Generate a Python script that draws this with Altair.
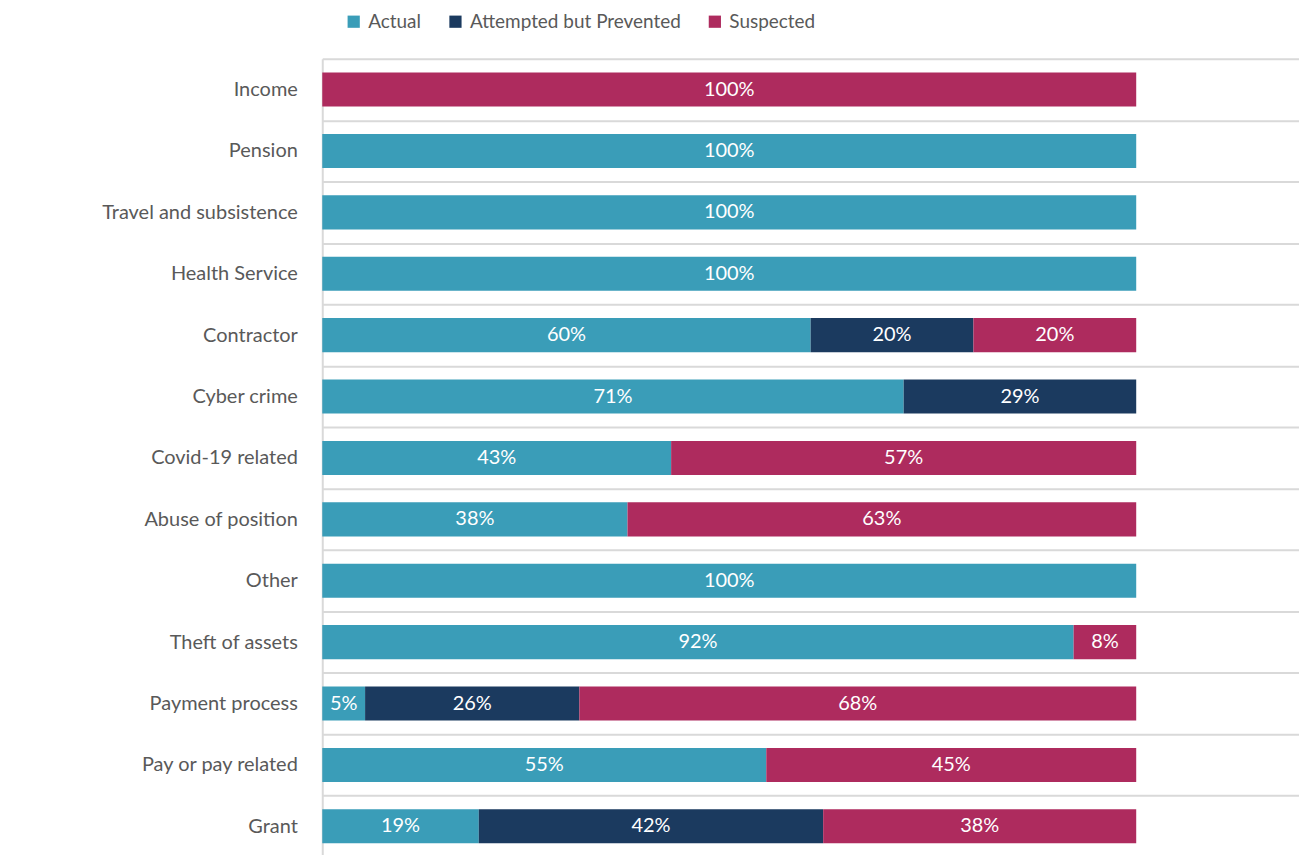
import altair as alt
import pandas as pd

categories = ["Income", "Pension", "Travel and subsistence", "Health Service", "Contractor",
              "Cyber crime", "Covid-19 related", "Abuse of position", "Other", "Theft of assets",
              "Payment process", "Pay or pay related", "Grant"]
actual = [0, 100, 100, 100, 60, 71.43, 42.86, 37.5, 100, 92.31, 5.26, 54.55, 19.23]
attempted = [0, 0, 0, 0, 20, 28.57, 0, 0, 0, 0, 26.32, 0, 42.31]
suspected = [100, 0, 0, 0, 20, 0, 57.14, 62.5, 0, 7.69, 68.42, 45.45, 38.46]
series = ["Actual", "Attempted but Prevented", "Suspected"]
colors = ["#3A9DB8", "#1B3A5F", "#AE2B5E"]

rows = []
for i, c in enumerate(categories):
    for k, (s, vals) in enumerate(zip(series, [actual, attempted, suspected])):
        if vals[i] > 0:
            rows.append({"category": c, "series": s, "value": vals[i], "order": k})
df = pd.DataFrame(rows)

base = alt.Chart(df).transform_stack(
    stack="value", groupby=["category"], as_=["x0", "x1"],
    sort=[alt.SortField("order", order="ascending")]
).transform_calculate(
    mid="(datum.x0 + datum.x1) / 2",
    label="format(datum.value / 100, '.0%')"
)

yenc = alt.Y("category:N", sort=categories, title=None,
             scale=alt.Scale(paddingInner=0, paddingOuter=0),
             axis=alt.Axis(tickBand="extent", grid=True, gridColor="#d9d9d9", gridWidth=2,
                           domainColor="#d9d9d9", domainWidth=2, ticks=False,
                           labelFont="Lato", labelFontSize=20, labelColor="#595959",
                           labelPadding=25, labelLimit=400))

xscale = alt.Scale(domain=[0, 120], nice=False)

bars = base.mark_bar(height=alt.RelativeBandSize(0.555)).encode(
    x=alt.X("x0:Q", scale=xscale, axis=None),
    x2="x1:Q",
    y=yenc,
    color=alt.Color("series:N", sort=series,
                    scale=alt.Scale(domain=series, range=colors),
                    legend=alt.Legend(orient="none", legendX=22, legendY=-47, direction="horizontal",
                                      title=None, symbolType="square", symbolSize=150,
                                      symbolStrokeWidth=0, symbolOpacity=1,
                                      labelFont="Lato", labelFontSize=19, labelColor="#595959",
                                      labelOffset=5, labelLimit=500, columnPadding=24)),
)

texts = base.mark_text(color="white", font="Lato", fontSize=20).encode(
    x=alt.X("mid:Q", scale=xscale, axis=None),
    y=alt.Y("category:N", sort=categories),
    text="label:N",
)

chart = alt.layer(bars, texts).properties(
    width=979, height=800,
    autosize=alt.AutoSizeParams(type="none"),
    padding={"left": 315, "top": 50, "right": 0, "bottom": 0},
).configure_view(stroke=None)

chart.save("out.html", embed_options={"renderer": "svg", "actions": False})
